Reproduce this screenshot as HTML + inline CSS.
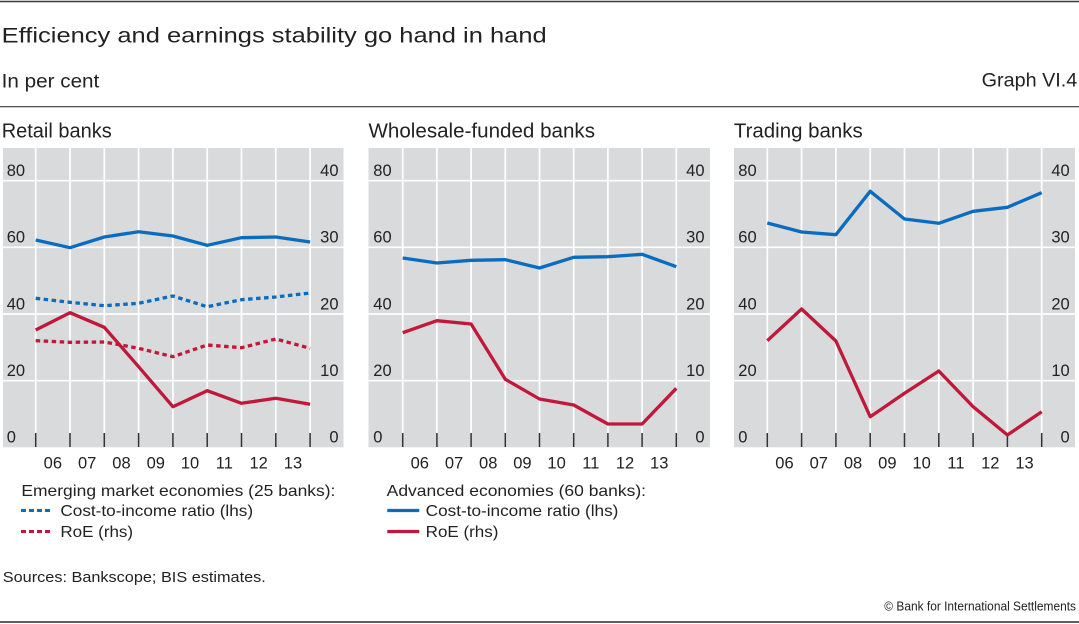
<!DOCTYPE html>
<html><head><meta charset="utf-8"><style>
html,body{margin:0;padding:0;background:#fff;}
svg{display:block;}
text{font-family:"Liberation Sans",Arial,sans-serif;fill:#222;}
</style></head><body>
<svg width="1079" height="624" viewBox="0 0 1079 624" xmlns="http://www.w3.org/2000/svg">
<!-- header -->
<line x1="0" y1="1.5" x2="1079" y2="1.5" stroke="#3a3a3a" stroke-width="1.4"/>
<text x="1.7" y="42.7" font-size="21" textLength="545" lengthAdjust="spacingAndGlyphs">Efficiency and earnings stability go hand in hand</text>
<text x="1.7" y="87.3" font-size="19" textLength="97.6" lengthAdjust="spacingAndGlyphs">In per cent</text>
<text x="1077.3" y="86.7" font-size="19" text-anchor="end" textLength="95.6" lengthAdjust="spacingAndGlyphs">Graph VI.4</text>
<line x1="0" y1="106.7" x2="1079" y2="106.7" stroke="#3a3a3a" stroke-width="1.2"/>
<text x="1.7" y="137.3" font-size="20" textLength="110" lengthAdjust="spacingAndGlyphs">Retail banks</text>
<text x="368.5" y="137.3" font-size="20" textLength="226.5" lengthAdjust="spacingAndGlyphs">Wholesale-funded banks</text>
<text x="733.9" y="137.3" font-size="20" textLength="128.8" lengthAdjust="spacingAndGlyphs">Trading banks</text>

<!-- Panel 1 -->
<g>
<rect x="3" y="148" width="340.5" height="299.3" fill="#d9dadc"/>
<g stroke="#fff" stroke-width="1.7">
<line x1="3" y1="180.7" x2="343.5" y2="180.7"/><line x1="3" y1="247.3" x2="343.5" y2="247.3"/><line x1="3" y1="314" x2="343.5" y2="314"/><line x1="3" y1="380.7" x2="343.5" y2="380.7"/>
<line x1="35.7" y1="148" x2="35.7" y2="433"/><line x1="70" y1="148" x2="70" y2="433"/><line x1="104.3" y1="148" x2="104.3" y2="433"/><line x1="138.6" y1="148" x2="138.6" y2="433"/><line x1="172.9" y1="148" x2="172.9" y2="433"/><line x1="207.2" y1="148" x2="207.2" y2="433"/><line x1="241.5" y1="148" x2="241.5" y2="433"/><line x1="275.8" y1="148" x2="275.8" y2="433"/><line x1="310.1" y1="148" x2="310.1" y2="433"/>
</g>
<g stroke="#333" stroke-width="1.5">
<line x1="35.7" y1="433" x2="35.7" y2="447"/><line x1="70" y1="433" x2="70" y2="447"/><line x1="104.3" y1="433" x2="104.3" y2="447"/><line x1="138.6" y1="433" x2="138.6" y2="447"/><line x1="172.9" y1="433" x2="172.9" y2="447"/><line x1="207.2" y1="433" x2="207.2" y2="447"/><line x1="241.5" y1="433" x2="241.5" y2="447"/><line x1="275.8" y1="433" x2="275.8" y2="447"/><line x1="310.1" y1="433" x2="310.1" y2="447"/>
</g>
<g font-size="16.5">
<text x="6.7" y="176">80</text><text x="6.7" y="242.7">60</text><text x="6.7" y="309.3">40</text><text x="6.7" y="376">20</text><text x="6.7" y="442.7">0</text>
<text x="338.5" y="176" text-anchor="end">40</text><text x="338.5" y="242.7" text-anchor="end">30</text><text x="338.5" y="309.3" text-anchor="end">20</text><text x="338.5" y="376" text-anchor="end">10</text><text x="338.5" y="442.7" text-anchor="end">0</text>
</g>
<g font-size="16.5" text-anchor="middle">
<text x="52.85" y="468.3">06</text><text x="87.15" y="468.3">07</text><text x="121.45" y="468.3">08</text><text x="155.75" y="468.3">09</text><text x="190.05" y="468.3">10</text><text x="224.35" y="468.3">11</text><text x="258.65" y="468.3">12</text><text x="292.95" y="468.3">13</text>
</g>
<g fill="none" stroke-width="3.3" stroke-linejoin="round">
<polyline stroke="#0a6cbf" points="35.7,240 70,247.7 104.3,237 138.6,231.7 172.9,236 207.2,245.3 241.5,237.7 275.8,237 310.1,242"/>
<polyline stroke="#0a6cbf" stroke-dasharray="4.5 3.5" points="35.7,298.3 70,302.3 104.3,305.7 138.6,303.3 172.9,296 207.2,306.7 241.5,299.7 275.8,297 310.1,293"/>
<polyline stroke="#c0183a" points="35.7,330 70,312.7 104.3,327.3 138.6,366.7 172.9,406.7 207.2,390.7 241.5,403.3 275.8,398.3 310.1,404.3"/>
<polyline stroke="#c0183a" stroke-dasharray="4.5 3.5" points="35.7,340.7 70,342.3 104.3,342 138.6,348.3 172.9,356.7 207.2,345 241.5,347.7 275.8,339 310.1,348.3"/>
</g>
</g>

<!-- Panel 2 -->
<g>
<rect x="368.5" y="148" width="341.5" height="299.3" fill="#d9dadc"/>
<g stroke="#fff" stroke-width="1.7">
<line x1="368.5" y1="180.7" x2="710" y2="180.7"/><line x1="368.5" y1="247.3" x2="710" y2="247.3"/><line x1="368.5" y1="314" x2="710" y2="314"/><line x1="368.5" y1="380.7" x2="710" y2="380.7"/>
<line x1="402.7" y1="148" x2="402.7" y2="433"/><line x1="436.9" y1="148" x2="436.9" y2="433"/><line x1="471.1" y1="148" x2="471.1" y2="433"/><line x1="505.3" y1="148" x2="505.3" y2="433"/><line x1="539.5" y1="148" x2="539.5" y2="433"/><line x1="573.7" y1="148" x2="573.7" y2="433"/><line x1="607.9" y1="148" x2="607.9" y2="433"/><line x1="642.1" y1="148" x2="642.1" y2="433"/><line x1="676.3" y1="148" x2="676.3" y2="433"/>
</g>
<g stroke="#333" stroke-width="1.5">
<line x1="402.7" y1="433" x2="402.7" y2="447"/><line x1="436.9" y1="433" x2="436.9" y2="447"/><line x1="471.1" y1="433" x2="471.1" y2="447"/><line x1="505.3" y1="433" x2="505.3" y2="447"/><line x1="539.5" y1="433" x2="539.5" y2="447"/><line x1="573.7" y1="433" x2="573.7" y2="447"/><line x1="607.9" y1="433" x2="607.9" y2="447"/><line x1="642.1" y1="433" x2="642.1" y2="447"/><line x1="676.3" y1="433" x2="676.3" y2="447"/>
</g>
<g font-size="16.5">
<text x="373.3" y="176">80</text><text x="373.3" y="242.7">60</text><text x="373.3" y="309.3">40</text><text x="373.3" y="376">20</text><text x="373.3" y="442.7">0</text>
<text x="704.5" y="176" text-anchor="end">40</text><text x="704.5" y="242.7" text-anchor="end">30</text><text x="704.5" y="309.3" text-anchor="end">20</text><text x="704.5" y="376" text-anchor="end">10</text><text x="704.5" y="442.7" text-anchor="end">0</text>
</g>
<g font-size="16.5" text-anchor="middle">
<text x="419.8" y="468.3">06</text><text x="454" y="468.3">07</text><text x="488.2" y="468.3">08</text><text x="522.4" y="468.3">09</text><text x="556.6" y="468.3">10</text><text x="590.8" y="468.3">11</text><text x="625" y="468.3">12</text><text x="659.2" y="468.3">13</text>
</g>
<g fill="none" stroke-width="3.3" stroke-linejoin="round">
<polyline stroke="#0a6cbf" points="402.7,258 436.9,263 471.1,260.3 505.3,259.7 539.5,268 573.7,257.3 607.9,256.7 642.1,254.3 676.3,266.7"/>
<polyline stroke="#c0183a" points="402.7,332.7 436.9,320.7 471.1,324 505.3,379.3 539.5,399 573.7,405 607.9,424 642.1,424 676.3,388.3"/>
</g>
</g>

<!-- Panel 3 -->
<g>
<rect x="734" y="148" width="341" height="299.3" fill="#d9dadc"/>
<g stroke="#fff" stroke-width="1.7">
<line x1="734" y1="180.7" x2="1075" y2="180.7"/><line x1="734" y1="247.3" x2="1075" y2="247.3"/><line x1="734" y1="314" x2="1075" y2="314"/><line x1="734" y1="380.7" x2="1075" y2="380.7"/>
<line x1="767.3" y1="148" x2="767.3" y2="433"/><line x1="801.6" y1="148" x2="801.6" y2="433"/><line x1="835.9" y1="148" x2="835.9" y2="433"/><line x1="870.2" y1="148" x2="870.2" y2="433"/><line x1="904.5" y1="148" x2="904.5" y2="433"/><line x1="938.8" y1="148" x2="938.8" y2="433"/><line x1="973.1" y1="148" x2="973.1" y2="433"/><line x1="1007.4" y1="148" x2="1007.4" y2="433"/><line x1="1041.7" y1="148" x2="1041.7" y2="433"/>
</g>
<g stroke="#333" stroke-width="1.5">
<line x1="767.3" y1="433" x2="767.3" y2="447"/><line x1="801.6" y1="433" x2="801.6" y2="447"/><line x1="835.9" y1="433" x2="835.9" y2="447"/><line x1="870.2" y1="433" x2="870.2" y2="447"/><line x1="904.5" y1="433" x2="904.5" y2="447"/><line x1="938.8" y1="433" x2="938.8" y2="447"/><line x1="973.1" y1="433" x2="973.1" y2="447"/><line x1="1007.4" y1="433" x2="1007.4" y2="447"/><line x1="1041.7" y1="433" x2="1041.7" y2="447"/>
</g>
<g font-size="16.5">
<text x="738.3" y="176">80</text><text x="738.3" y="242.7">60</text><text x="738.3" y="309.3">40</text><text x="738.3" y="376">20</text><text x="738.3" y="442.7">0</text>
<text x="1069.7" y="176" text-anchor="end">40</text><text x="1069.7" y="242.7" text-anchor="end">30</text><text x="1069.7" y="309.3" text-anchor="end">20</text><text x="1069.7" y="376" text-anchor="end">10</text><text x="1069.7" y="442.7" text-anchor="end">0</text>
</g>
<g font-size="16.5" text-anchor="middle">
<text x="784.45" y="468.3">06</text><text x="818.75" y="468.3">07</text><text x="853.05" y="468.3">08</text><text x="887.35" y="468.3">09</text><text x="921.65" y="468.3">10</text><text x="955.95" y="468.3">11</text><text x="990.25" y="468.3">12</text><text x="1024.55" y="468.3">13</text>
</g>
<g fill="none" stroke-width="3.3" stroke-linejoin="round">
<polyline stroke="#0a6cbf" points="767.3,223 801.6,232 835.9,234.7 870.2,191.3 904.5,219 938.8,223.3 973.1,211.3 1007.4,207.3 1041.7,192.7"/>
<polyline stroke="#c0183a" points="767.3,340.7 801.6,309 835.9,341 870.2,416.7 904.5,393.3 938.8,371 973.1,406.7 1007.4,435 1041.7,411.7"/>
</g>
</g>

<!-- Legends -->
<g font-size="16">
<text x="21.4" y="496" textLength="314" lengthAdjust="spacingAndGlyphs">Emerging market economies (25 banks):</text>
<line x1="21" y1="510.5" x2="52" y2="510.5" stroke="#0a6cbf" stroke-width="3" stroke-dasharray="5 3"/>
<text x="60.4" y="516" textLength="192.7" lengthAdjust="spacingAndGlyphs">Cost-to-income ratio (lhs)</text>
<line x1="21" y1="531.5" x2="52" y2="531.5" stroke="#c0183a" stroke-width="3" stroke-dasharray="5 3"/>
<text x="60.4" y="537" textLength="72.7" lengthAdjust="spacingAndGlyphs">RoE (rhs)</text>

<text x="386.7" y="496" textLength="259.3" lengthAdjust="spacingAndGlyphs">Advanced economies (60 banks):</text>
<line x1="387.3" y1="510.5" x2="419.3" y2="510.5" stroke="#0a6cbf" stroke-width="3.2"/>
<text x="425.7" y="516" textLength="192.7" lengthAdjust="spacingAndGlyphs">Cost-to-income ratio (lhs)</text>
<line x1="387.3" y1="531.5" x2="419.3" y2="531.5" stroke="#c0183a" stroke-width="3.2"/>
<text x="425.7" y="537" textLength="72.7" lengthAdjust="spacingAndGlyphs">RoE (rhs)</text>
</g>

<!-- Footer -->
<text x="2.8" y="582" font-size="15" textLength="263" lengthAdjust="spacingAndGlyphs">Sources: Bankscope; BIS estimates.</text>
<text x="1076" y="610.7" font-size="12.5" text-anchor="end" textLength="191.7" lengthAdjust="spacingAndGlyphs">© Bank for International Settlements</text>
<line x1="0" y1="622" x2="1079" y2="622" stroke="#2a2a2a" stroke-width="1.6"/>
</svg>
</body></html>
